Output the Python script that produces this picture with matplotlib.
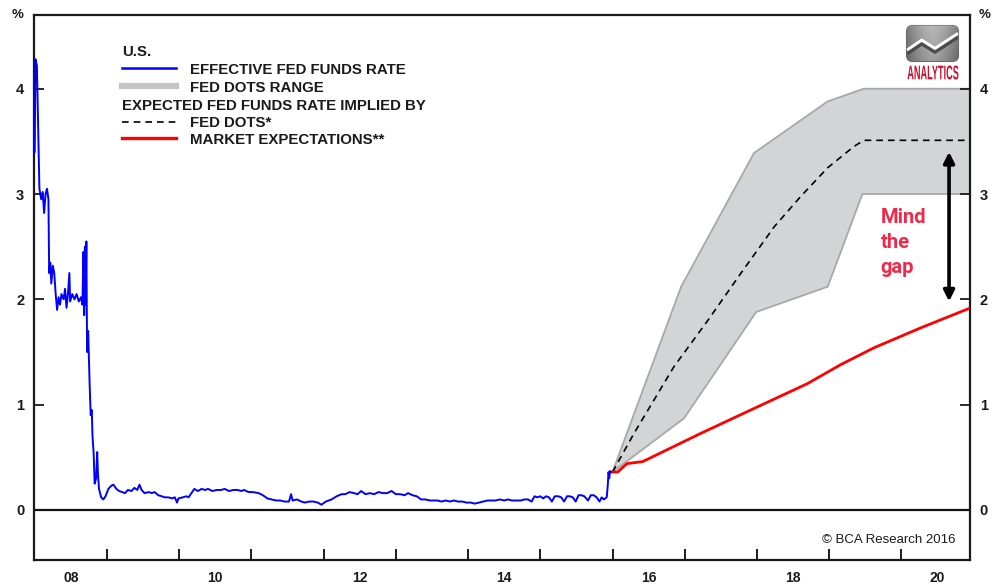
import numpy as np
import matplotlib
matplotlib.use("Agg")
import matplotlib.pyplot as plt
from matplotlib.lines import Line2D
from matplotlib.patches import FancyBboxPatch, PathPatch
from matplotlib.textpath import TextPath
from matplotlib.font_manager import FontProperties
from matplotlib.transforms import Affine2D

plt.rcParams['font.family'] = ['Liberation Sans', 'DejaVu Sans']

# ---------------------------------------------------------------------------
# Effective fed funds rate (%), decimal years
effr_years = [
    2008.00, 2008.01, 2008.03, 2008.05, 2008.065, 2008.09, 2008.11, 2008.13, 2008.15, 2008.17,
    2008.19, 2008.20, 2008.215, 2008.23, 2008.25, 2008.27, 2008.29, 2008.31, 2008.33, 2008.35,
    2008.37, 2008.40, 2008.42, 2008.44, 2008.46, 2008.48, 2008.49, 2008.52, 2008.55, 2008.58,
    2008.61, 2008.64, 2008.66, 2008.675, 2008.685, 2008.695, 2008.705, 2008.715, 2008.725, 2008.74,
    2008.76, 2008.775, 2008.79, 2008.80, 2008.815, 2008.83, 2008.85, 2008.865, 2008.875, 2008.89,
    2008.92, 2008.95, 2008.98, 2009.02, 2009.06, 2009.09, 2009.13, 2009.17, 2009.21, 2009.25,
    2009.29, 2009.34, 2009.38, 2009.42, 2009.45, 2009.48, 2009.52, 2009.58, 2009.62, 2009.66,
    2009.71, 2009.76, 2009.80, 2009.85, 2009.90, 2009.94, 2009.97, 2009.99, 2010.05, 2010.10,
    2010.13, 2010.17, 2010.21, 2010.26, 2010.31, 2010.36, 2010.40, 2010.46, 2010.52, 2010.58,
    2010.63, 2010.69, 2010.75, 2010.81, 2010.86, 2010.90, 2010.96, 2011.02, 2011.10, 2011.16,
    2011.22, 2011.28, 2011.34, 2011.40, 2011.46, 2011.52, 2011.55, 2011.57, 2011.63, 2011.69,
    2011.74, 2011.80, 2011.86, 2011.92, 2011.97, 2012.03, 2012.11, 2012.18, 2012.25, 2012.30,
    2012.36, 2012.42, 2012.47, 2012.52, 2012.58, 2012.64, 2012.70, 2012.76, 2012.82, 2012.88,
    2012.94, 2013.00, 2013.06, 2013.12, 2013.17, 2013.23, 2013.29, 2013.35, 2013.41, 2013.47,
    2013.53, 2013.58, 2013.63, 2013.69, 2013.75, 2013.80, 2013.86, 2013.92, 2013.98, 2014.04,
    2014.09, 2014.15, 2014.21, 2014.27, 2014.32, 2014.38, 2014.44, 2014.50, 2014.55, 2014.61,
    2014.67, 2014.73, 2014.78, 2014.83, 2014.88, 2014.92, 2014.96, 2015.00, 2015.04, 2015.08,
    2015.12, 2015.16, 2015.20, 2015.25, 2015.29, 2015.33, 2015.37, 2015.41, 2015.45, 2015.49,
    2015.53, 2015.57, 2015.61, 2015.66, 2015.70, 2015.74, 2015.78, 2015.82, 2015.85, 2015.88,
    2015.92, 2015.935, 2015.945, 2015.955, 2015.965, 2015.98,
]
effr_values = [
    3.40, 4.28, 4.22, 3.55, 3.05, 2.95, 3.02, 2.82, 3.00, 3.05,
    2.95, 2.25, 2.35, 2.15, 2.32, 2.25, 2.05, 1.90, 2.02, 1.95,
    2.05, 2.00, 2.10, 1.92, 2.05, 2.25, 1.98, 2.05, 2.00, 2.05,
    1.98, 2.02, 1.95, 2.45, 1.85, 2.50, 1.95, 2.55, 1.50, 1.70,
    1.20, 0.90, 0.95, 0.70, 0.55, 0.25, 0.30, 0.55, 0.35, 0.20,
    0.12, 0.10, 0.13, 0.20, 0.23, 0.24, 0.20, 0.18, 0.17, 0.16,
    0.19, 0.18, 0.21, 0.19, 0.24, 0.19, 0.16, 0.17, 0.16, 0.17,
    0.14, 0.13, 0.12, 0.12, 0.11, 0.12, 0.07, 0.11, 0.12, 0.13,
    0.12, 0.16, 0.20, 0.18, 0.20, 0.19, 0.20, 0.18, 0.19, 0.19,
    0.20, 0.18, 0.19, 0.19, 0.18, 0.19, 0.17, 0.17, 0.16, 0.14,
    0.11, 0.10, 0.09, 0.09, 0.08, 0.08, 0.15, 0.09, 0.10, 0.08,
    0.07, 0.08, 0.08, 0.07, 0.05, 0.08, 0.10, 0.13, 0.15, 0.15,
    0.17, 0.16, 0.15, 0.18, 0.15, 0.16, 0.15, 0.17, 0.16, 0.16,
    0.18, 0.15, 0.15, 0.14, 0.16, 0.14, 0.13, 0.10, 0.10, 0.09,
    0.09, 0.09, 0.08, 0.09, 0.08, 0.09, 0.08, 0.08, 0.07, 0.07,
    0.06, 0.07, 0.08, 0.09, 0.09, 0.09, 0.10, 0.09, 0.10, 0.09,
    0.09, 0.09, 0.10, 0.10, 0.08, 0.13, 0.12, 0.13, 0.11, 0.13,
    0.12, 0.08, 0.13, 0.13, 0.12, 0.08, 0.13, 0.13, 0.12, 0.08,
    0.14, 0.14, 0.13, 0.09, 0.14, 0.14, 0.12, 0.08, 0.12, 0.10,
    0.12, 0.24, 0.36, 0.30, 0.37, 0.36,
]

# Fed dots range (upper and lower edges)
dots_hi_years = [2016.0, 2016.95, 2017.96, 2018.98, 2019.48, 2020.96]
dots_hi_values = [0.36, 2.12, 3.39, 3.88, 4.00, 4.00]
dots_lo_years = [2016.0, 2016.99, 2017.99, 2018.98, 2019.46, 2020.96]
dots_lo_values = [0.36, 0.87, 1.88, 2.12, 3.00, 3.00]

# Expected path implied by the Fed dots (median)
dots_mid_years = [2016.0, 2016.30, 2016.85, 2017.32, 2017.78, 2018.24, 2018.61,
                  2018.98, 2019.34, 2019.48, 2020.89]
dots_mid_values = [0.36, 0.73, 1.36, 1.80, 2.25, 2.69, 2.98, 3.25, 3.45, 3.51, 3.51]

# Market-implied path
market_years = [2016.0, 2016.07, 2016.20, 2016.42, 2016.51, 2017.23, 2018.01,
                2018.70, 2019.16, 2019.62, 2020.27, 2020.96]
market_values = [0.36, 0.36, 0.44, 0.46, 0.49, 0.73, 0.98, 1.20, 1.38, 1.54, 1.73, 1.92]

year_ticks = list(range(2009, 2021))
label_positions = [2008.5, 2010.5, 2012.5, 2014.5, 2016.5, 2018.5, 2020.5]
year_labels = ["08", "10", "12", "14", "16", "18", "20"]
y_ticks = [0, 1, 2, 3, 4]

BLUE = "#0000ff"
RED = "#ff0000"
TXT = "#1a1a1a"

W, H = 992, 587
fig = plt.figure(figsize=(W / 100, H / 100), dpi=100)


def fx(x):
    return x / W


def fy(y):
    return 1 - y / H


ax = fig.add_axes([fx(34), fy(560), (970 - 34) / W, (560 - 15) / H])
ax.set_xlim(2007.99, 2020.95)
ax.set_ylim(-0.475, 4.70)

# Fed dots range band
poly_x = list(dots_hi_years) + list(dots_lo_years[::-1])
poly_y = list(dots_hi_values) + list(dots_lo_values[::-1])
ax.fill(poly_x, poly_y, facecolor="#d3d4d6", edgecolor="#a8a8a8", lw=1.3, zorder=1)

ax.plot(dots_mid_years, dots_mid_values, color="k", lw=1.2, ls=(0, (4, 3)), zorder=3)
ax.plot(market_years, market_values, color=RED, lw=2.0, zorder=3)
ax.plot(effr_years, effr_values, color=BLUE, lw=1.4, zorder=4)

ax.axhline(0, color="#111111", lw=1.6, zorder=2)

# Gap annotation
ax.annotate("", xy=(2020.66, 3.40), xytext=(2020.66, 1.98),
            arrowprops=dict(arrowstyle="<|-|>", lw=2.6, color="k",
                            mutation_scale=16, shrinkA=0, shrinkB=0), zorder=5)
ax.text(2019.71, 2.87, "Mind\nthe\ngap", color="#f0284a", fontsize=14.5,
        fontweight="bold", family=["Roboto", "DejaVu Sans"], ha="left", va="top",
        linespacing=1.42)

ax.text(2020.75, -0.285, "\u00a9 BCA Research 2016", ha="right", va="center",
        fontsize=9.5, color=TXT)

# Axes styling
for sp in ax.spines.values():
    sp.set_linewidth(1.6)
    sp.set_color("#1a1a1a")

ax.set_xticks(year_ticks)
ax.set_xticklabels([])
ax.set_xticks(label_positions, minor=True)
ax.set_xticklabels(year_labels, minor=True)
ax.tick_params(axis="x", which="major", direction="in", length=8, width=1.4,
               color="#1a1a1a")
ax.tick_params(axis="x", which="minor", length=0, pad=8, labelsize=10,
               labelcolor=TXT)
for lab in ax.get_xticklabels(minor=True):
    lab.set_fontweight("bold")

ax.set_yticks(y_ticks)
ax.set_yticklabels([str(v) for v in y_ticks])
ax.tick_params(axis="y", direction="in", length=7, width=1.3, left=True, right=True,
               labelleft=True, labelright=True, labelsize=10.5, labelcolor=TXT,
               pad=7, color="#1a1a1a")
for lab in ax.get_yticklabels():
    lab.set_fontweight("bold")
for t in ax.yaxis.get_major_ticks():
    t.label2.set_fontweight("bold")

fig.text(fx(18), fy(15), "%", ha="center", va="center", fontsize=9.5,
         fontweight="bold", color=TXT)
fig.text(fx(985), fy(15), "%", ha="center", va="center", fontsize=9.5,
         fontweight="bold", color=TXT)

# Legend
leg_font = dict(fontsize=10.8, fontweight="bold", color=TXT, va="center", ha="left")
fig.text(fx(122), fy(52), "U.S.", **leg_font)
legend_rows = [
    (68, dict(color=BLUE, lw=1.8), 70, "EFFECTIVE FED FUNDS RATE"),
    (86, dict(color="#c4c4c4", lw=4.5), 88, "FED DOTS RANGE"),
    (122, dict(color="k", lw=1.2, ls=(0, (4, 3))), 123, "FED DOTS*"),
    (138, dict(color=RED, lw=2.4), 140, "MARKET EXPECTATIONS**"),
]
for ly, style, ty, label in legend_rows:
    fig.add_artist(Line2D([fx(122), fx(176)], [fy(ly), fy(ly)],
                          transform=fig.transFigure, **style))
    fig.text(fx(190), fy(ty), label, **leg_font)
fig.text(fx(122), fy(106), "EXPECTED FED FUNDS RATE IMPLIED BY", **leg_font)

# Analytics badge
lax = fig.add_axes([fx(905), fy(81), 56 / W, 57 / H])
lax.set_xlim(0, 56)
lax.set_ylim(0, 57)
lax.axis("off")
badge = FancyBboxPatch((1.5, 19.5), 52, 36, boxstyle="round,pad=0,rounding_size=6",
                       facecolor="none", edgecolor="#6a6a6a", lw=0.8)
lax.add_patch(badge)
gx = np.linspace(-1, 1, 200)
gy = np.linspace(0, 1, 100)
GX, GY = np.meshgrid(gx, gy)
shade = 0.62 - 0.22 * np.abs(GX) ** 1.5 + 0.10 * GY
img = lax.imshow(shade, extent=(1.5, 53.5, 19.5, 55.5), cmap="gray", vmin=0, vmax=1,
                 origin="lower", aspect="auto", zorder=1)
img.set_clip_path(badge)
zig_x = [2, 16.7, 30, 53]
zig_y = [31, 41, 32.7, 47.7]
shadow, = lax.plot(zig_x, [v - 4 for v in zig_y], color="#4a4a4a", lw=2.2, zorder=2,
                   solid_capstyle="butt")
shadow.set_clip_path(badge)
zig, = lax.plot(zig_x, zig_y, color="white", lw=2.0, zorder=3, solid_capstyle="butt")
zig.set_clip_path(badge)
tp = TextPath((0, 0), "ANALYTICS", size=10,
              prop=FontProperties(family="Liberation Sans", weight="bold"))
ext = tp.get_extents()
sx = 51 / ext.width
sy = 14 / ext.height
tr = Affine2D().translate(-ext.x0, -ext.y0).scale(sx, sy).translate(2.5, 1.5)
lax.add_patch(PathPatch(tr.transform_path(tp), facecolor="#c8102e", edgecolor="none"))

fig.savefig("out.png", dpi=100)
